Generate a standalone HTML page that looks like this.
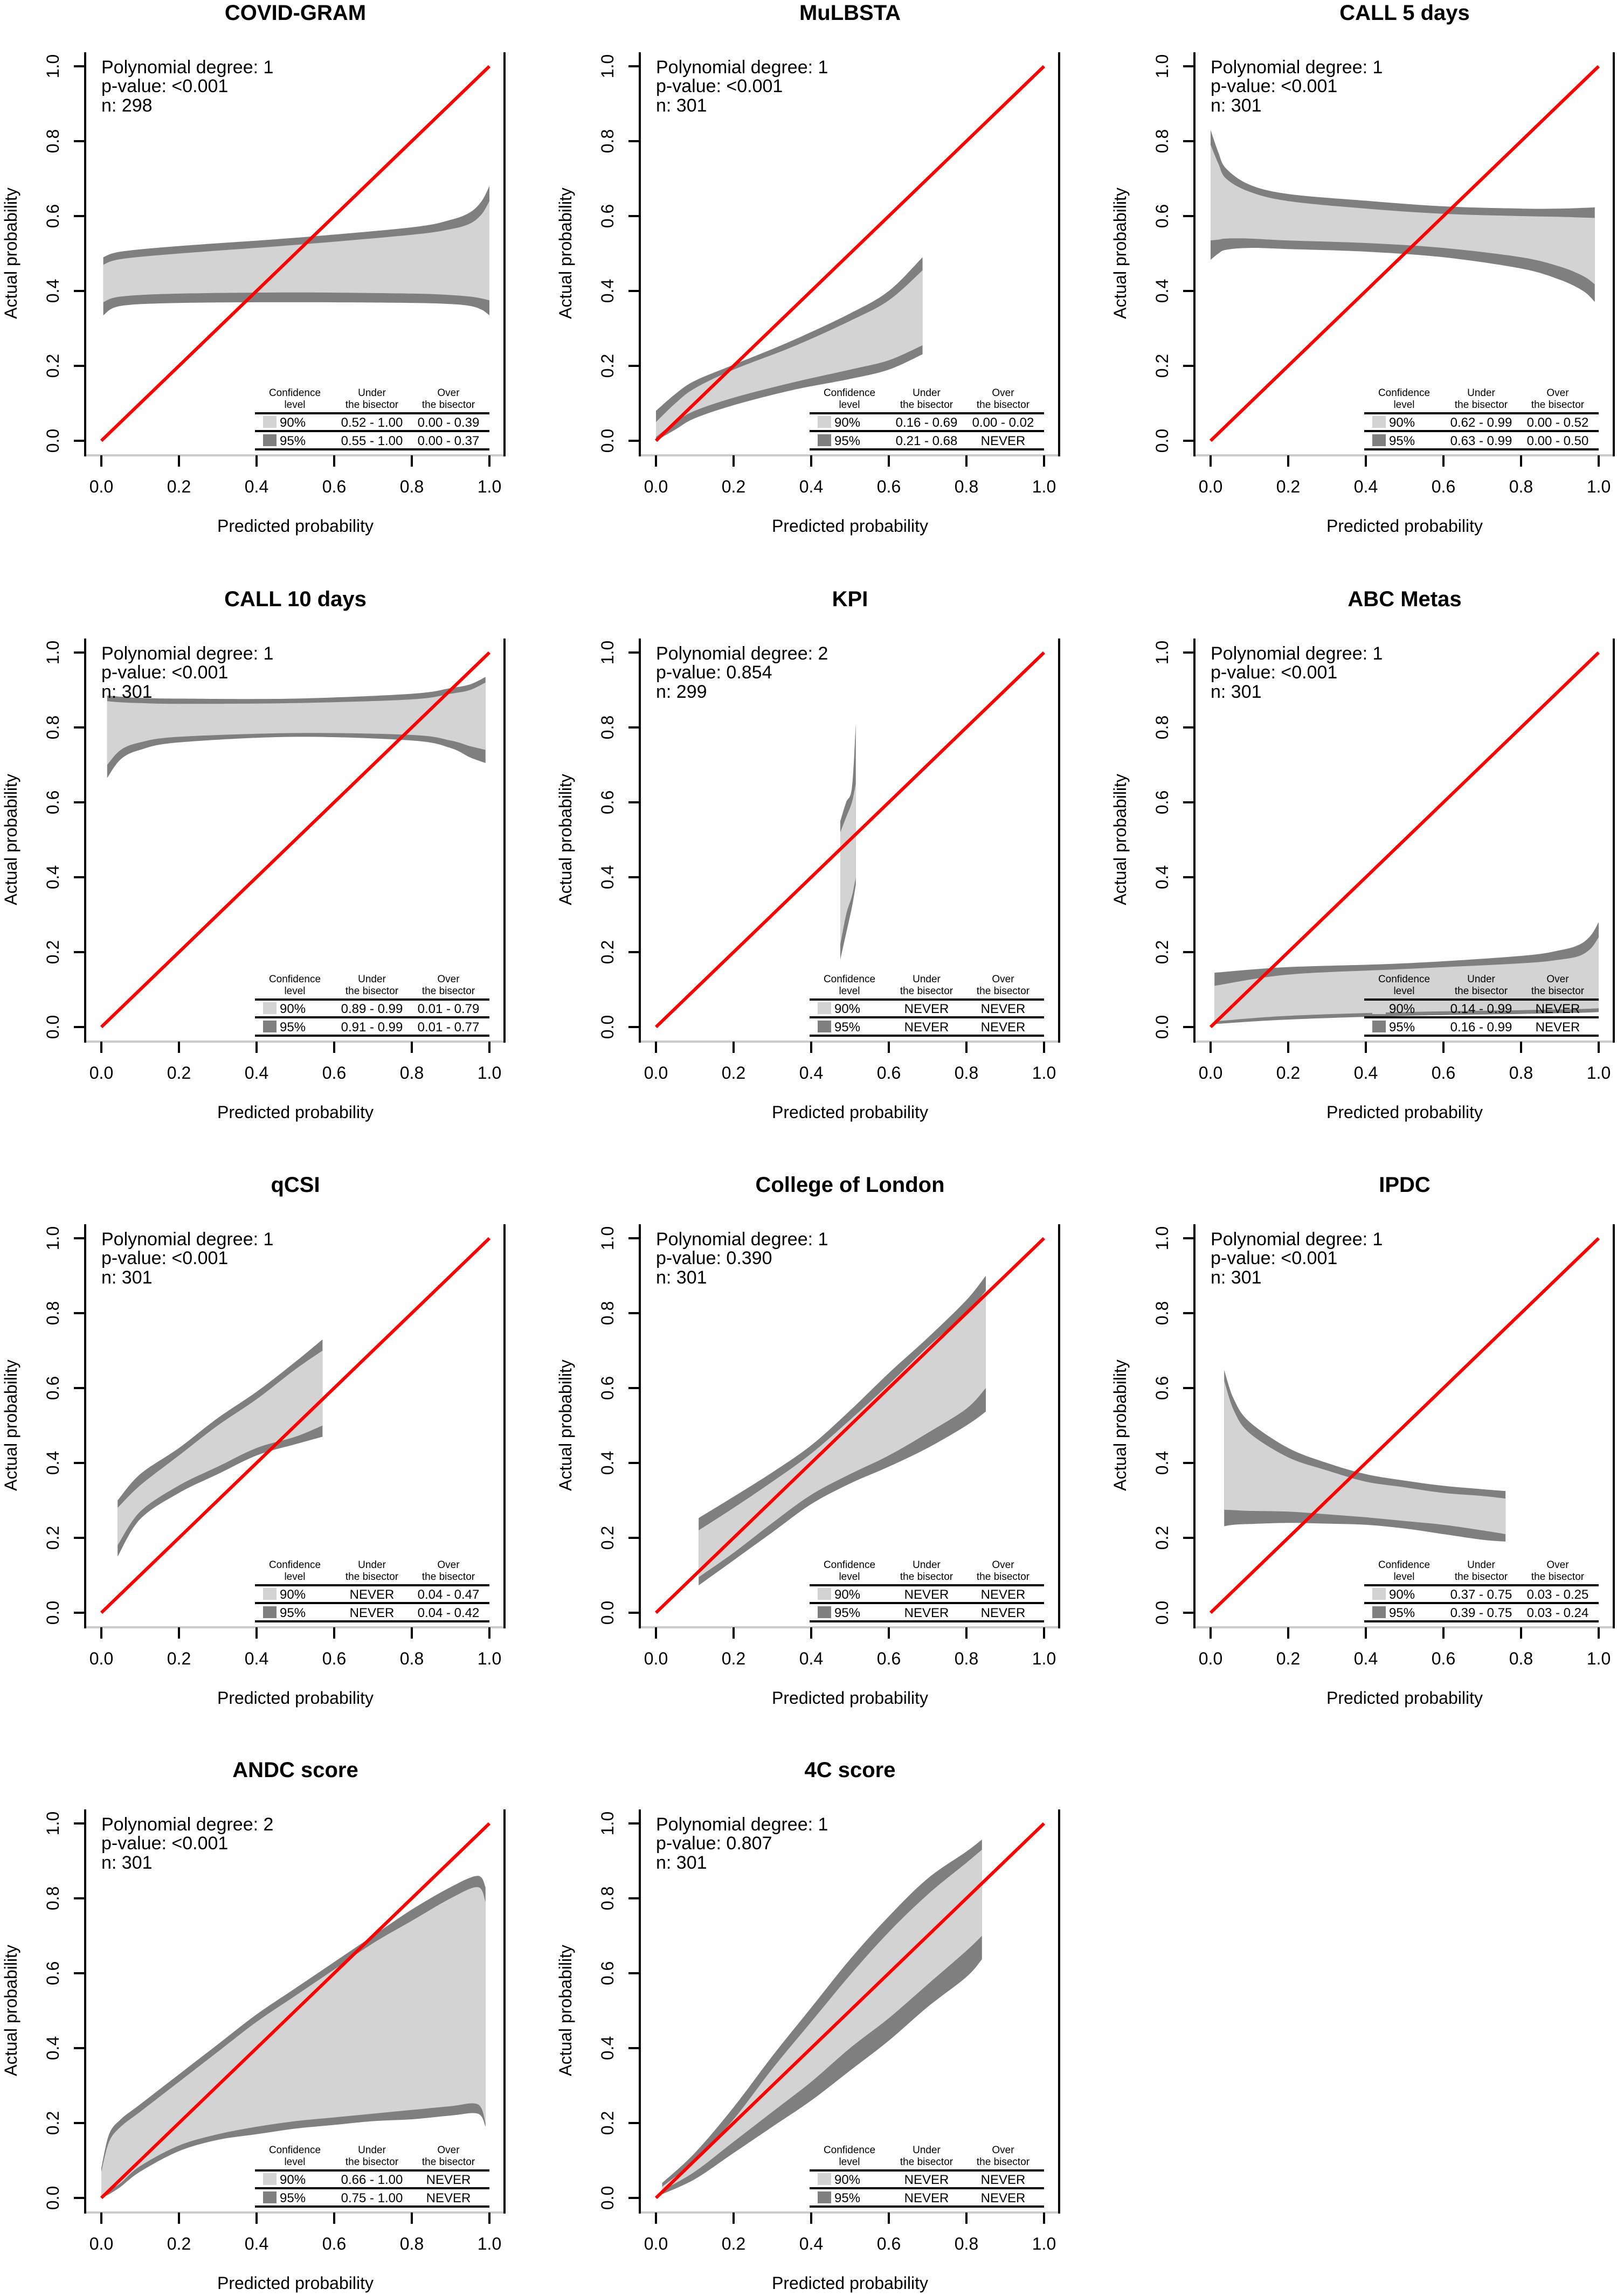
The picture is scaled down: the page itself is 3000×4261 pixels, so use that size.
<!DOCTYPE html>
<html><head><meta charset="utf-8"><style>
html,body{margin:0;padding:0;background:#fff;}
svg{display:block;font-family:"Liberation Sans",Arial,sans-serif;}
</style></head><body>
<svg id="fig" width="3000" height="4261" viewBox="0 0 3000 4261" xmlns="http://www.w3.org/2000/svg"></svg>
<script>
// ---- data ----
const titles = ["COVID-GRAM","MuLBSTA","CALL 5 days","CALL 10 days","KPI","ABC Metas","qCSI","College of London","IPDC","ANDC score","4C score"];
const degrees = [1,1,1,1,2,1,1,1,1,2,1];
const pvalues = ["<0.001","<0.001","<0.001","<0.001","0.854","<0.001","<0.001","0.390","<0.001","<0.001","0.807"];
const nvalues = [298,301,301,301,299,301,301,301,301,301,301];
const under90 = ["0.52 - 1.00","0.16 - 0.69","0.62 - 0.99","0.89 - 0.99","NEVER","0.14 - 0.99","NEVER","NEVER","0.37 - 0.75","0.66 - 1.00","NEVER"];
const over90  = ["0.00 - 0.39","0.00 - 0.02","0.00 - 0.52","0.01 - 0.79","NEVER","NEVER","0.04 - 0.47","NEVER","0.03 - 0.25","NEVER","NEVER"];
const under95 = ["0.55 - 1.00","0.21 - 0.68","0.63 - 0.99","0.91 - 0.99","NEVER","0.16 - 0.99","NEVER","NEVER","0.39 - 0.75","0.75 - 1.00","NEVER"];
const over95  = ["0.00 - 0.37","NEVER","0.00 - 0.50","0.01 - 0.77","NEVER","NEVER","0.04 - 0.42","NEVER","0.03 - 0.24","NEVER","NEVER"];
const xTicks = [0,0.2,0.4,0.6,0.8,1];
const tickLabels = ["0.0","0.2","0.4","0.6","0.8","1.0"];
// band x positions and bounds per panel
const bandX = [
 [0.005,0.05,0.2,0.5,0.8,0.9,0.95,0.98,1.0],
 [0,0.05,0.1,0.2,0.35,0.5,0.6,0.687],
 [0,0.02,0.04,0.1,0.2,0.4,0.6,0.8,0.9,0.96,0.99],
 [0.015,0.05,0.1,0.2,0.5,0.8,0.9,0.95,0.99],
 [0.475,0.49,0.505,0.515],
 [0.01,0.2,0.5,0.8,0.9,0.95,0.98,1.0],
 [0.042,0.1,0.2,0.3,0.4,0.5,0.57],
 [0.11,0.2,0.3,0.4,0.5,0.6,0.7,0.8,0.85],
 [0.035,0.06,0.1,0.2,0.3,0.4,0.5,0.6,0.7,0.76],
 [0,0.02,0.05,0.1,0.2,0.3,0.4,0.5,0.6,0.7,0.8,0.9,0.97,0.99],
 [0.016,0.1,0.2,0.3,0.4,0.5,0.6,0.7,0.8,0.84]
];
const upper95 = [
 [0.49,0.505,0.52,0.542,0.57,0.59,0.61,0.64,0.68],
 [0.08,0.125,0.16,0.203,0.267,0.34,0.40,0.49],
 [0.83,0.77,0.727,0.684,0.659,0.641,0.626,0.62,0.62,0.622,0.623],
 [0.885,0.882,0.879,0.877,0.877,0.89,0.905,0.915,0.935],
 [0.55,0.60,0.64,0.81],
 [0.145,0.16,0.17,0.19,0.205,0.22,0.245,0.28],
 [0.30,0.37,0.44,0.52,0.59,0.67,0.73],
 [0.253,0.31,0.375,0.447,0.54,0.64,0.734,0.835,0.9],
 [0.648,0.57,0.51,0.44,0.40,0.37,0.353,0.339,0.33,0.325],
 [0.08,0.17,0.21,0.25,0.33,0.41,0.49,0.56,0.63,0.70,0.77,0.83,0.86,0.83],
 [0.04,0.12,0.242,0.379,0.508,0.637,0.752,0.853,0.925,0.957]
];
const upper90 = [
 [0.47,0.485,0.50,0.523,0.55,0.565,0.58,0.605,0.64],
 [0.05,0.10,0.14,0.19,0.25,0.32,0.375,0.455],
 [0.79,0.74,0.70,0.665,0.64,0.62,0.606,0.60,0.598,0.596,0.595],
 [0.87,0.867,0.865,0.863,0.865,0.875,0.89,0.9,0.92],
 [0.52,0.56,0.60,0.65],
 [0.11,0.14,0.155,0.17,0.18,0.19,0.21,0.24],
 [0.28,0.34,0.42,0.50,0.57,0.65,0.70],
 [0.22,0.28,0.35,0.425,0.515,0.61,0.71,0.80,0.86],
 [0.62,0.54,0.48,0.415,0.38,0.35,0.335,0.32,0.312,0.305],
 [0.07,0.15,0.19,0.23,0.31,0.39,0.47,0.54,0.61,0.68,0.74,0.80,0.83,0.79],
 [0.03,0.10,0.21,0.345,0.47,0.595,0.71,0.81,0.895,0.93]
];
const lower90 = [
 [0.37,0.385,0.393,0.396,0.393,0.389,0.385,0.38,0.375],
 [0.01,0.05,0.08,0.115,0.155,0.19,0.215,0.255],
 [0.535,0.537,0.54,0.54,0.535,0.528,0.515,0.49,0.465,0.44,0.418],
 [0.70,0.74,0.76,0.775,0.785,0.78,0.765,0.75,0.74],
 [0.22,0.30,0.35,0.40],
 [0.015,0.03,0.04,0.045,0.047,0.048,0.049,0.05],
 [0.18,0.27,0.34,0.39,0.44,0.47,0.50],
 [0.095,0.16,0.24,0.315,0.37,0.42,0.48,0.545,0.6],
 [0.275,0.274,0.272,0.27,0.263,0.255,0.245,0.235,0.22,0.21],
 [0.005,0.02,0.04,0.085,0.14,0.17,0.19,0.205,0.215,0.225,0.235,0.245,0.25,0.2],
 [0.02,0.07,0.15,0.23,0.31,0.40,0.48,0.57,0.66,0.70]
];
const lower95 = [
 [0.335,0.36,0.368,0.370,0.368,0.365,0.36,0.35,0.335],
 [0.0,0.03,0.06,0.095,0.135,0.165,0.19,0.231],
 [0.483,0.50,0.51,0.515,0.512,0.505,0.49,0.46,0.43,0.40,0.371],
 [0.665,0.715,0.74,0.76,0.775,0.765,0.745,0.72,0.705],
 [0.18,0.25,0.32,0.38],
 [0.008,0.02,0.03,0.035,0.037,0.038,0.039,0.04],
 [0.15,0.25,0.32,0.37,0.42,0.45,0.47],
 [0.073,0.14,0.215,0.29,0.345,0.39,0.44,0.50,0.537],
 [0.231,0.235,0.237,0.24,0.238,0.235,0.225,0.21,0.195,0.19],
 [0.0,0.01,0.03,0.07,0.125,0.155,0.17,0.185,0.195,0.205,0.21,0.22,0.225,0.19],
 [0.01,0.05,0.12,0.19,0.26,0.34,0.42,0.51,0.59,0.637]
];
const headerCol1 = ["Confidence","level"];
const headerCol2 = ["Under","the bisector"];
const headerCol3 = ["Over","the bisector"];

// ---- drawing ----
const NS = "http://www.w3.org/2000/svg";
const svg = document.getElementById("fig");
const colOff = [0,1029,2058];
const rowOff = [0,1088,2175,3261];
const X0 = 188, X1 = 908, Y0 = 818, Y1 = 123;
function mk(tag, attrs, parent){
  const e = document.createElementNS(NS, tag);
  for (const k in attrs) e.setAttribute(k, attrs[k]);
  (parent||svg).appendChild(e);
  return e;
}
function txt(s, attrs, parent){ const e = mk("text", attrs, parent); e.textContent = s; return e; }
// Catmull-Rom smooth segment through points (excluding initial move)
function smooth(pts){
  let d = "";
  for (let k = 0; k < pts.length - 1; k++) {
    const p0 = pts[Math.max(0, k - 1)], p1 = pts[k], p2 = pts[k + 1], p3 = pts[Math.min(pts.length - 1, k + 2)];
    const c1x = p1[0] + (p2[0] - p0[0]) / 6, c1y = p1[1] + (p2[1] - p0[1]) / 6;
    const c2x = p2[0] - (p3[0] - p1[0]) / 6, c2y = p2[1] - (p3[1] - p1[1]) / 6;
    d += " C" + c1x.toFixed(1) + "," + c1y.toFixed(1) + " " + c2x.toFixed(1) + "," + c2y.toFixed(1) + " " + p2[0].toFixed(1) + "," + p2[1].toFixed(1);
  }
  return d;
}

titles.forEach((title, i) => {
  const ox = colOff[i % 3], oy = rowOff[Math.floor(i / 3)];
  const sx = v => ox + X0 + v * (X1 - X0);
  const sy = v => oy + Y0 - v * (Y0 - Y1);
  const g = mk("g", {});
  
  

  const t = txt(title, {x: ox + 548, y: oy + 37, "text-anchor": "middle", "font-size": 40, "font-weight": "bold"}, g);
  
  

  // bands
  const xs = bandX[i];
  const path = (up, lo) => {
    const U = xs.map((x, k) => [sx(x), sy(up[k])]);
    const L = xs.map((x, k) => [sx(x), sy(lo[k])]).reverse();
    return "M" + U[0][0].toFixed(1) + "," + U[0][1].toFixed(1) + smooth(U) +
      " L" + L[0][0].toFixed(1) + "," + L[0][1].toFixed(1) + smooth(L) + " Z";
  };
  const b95 = mk("path", {d: path(upper95[i], lower95[i]), fill: "#7f7f7f"}, g);
  
  
  const b90 = mk("path", {d: path(upper90[i], lower90[i]), fill: "#d3d3d3"}, g);
  
  

  // diagonal
  const dl = mk("line", {x1: sx(0), y1: sy(0), x2: sx(1), y2: sy(1), stroke: "#ff0000", "stroke-width": 6}, g);
  
  

  // axes frame
  const bl = mk("line", {x1: ox + 158, y1: oy + 845, x2: ox + 936, y2: oy + 845, stroke: "#cccccc", "stroke-width": 4}, g);
  
  
  const la = mk("line", {x1: ox + 158, y1: oy + 97, x2: ox + 158, y2: oy + 847, stroke: "#000", "stroke-width": 4}, g);
  
  
  const ra = mk("line", {x1: ox + 936, y1: oy + 97, x2: ox + 936, y2: oy + 847, stroke: "#000", "stroke-width": 4}, g);
  
  

  xTicks.forEach((v, k) => {
    const tk = mk("line", {x1: sx(v), y1: oy + 845, x2: sx(v), y2: oy + 866, stroke: "#000", "stroke-width": 4}, g);
    
    
    const tl = txt(tickLabels[k], {x: sx(v), y: oy + 914, "text-anchor": "middle", "font-size": 32}, g);
    
    
    const ty = mk("line", {x1: ox + 137, y1: sy(v), x2: ox + 158, y2: sy(v), stroke: "#000", "stroke-width": 4}, g);
    
    
    const yl = txt(tickLabels[k], {x: 0, y: 0, "text-anchor": "middle", "font-size": 32, transform: "translate(" + (ox + 109) + "," + sy(v) + ") rotate(-90)"}, g);
    
    
  });

  const xt = txt("Predicted probability", {x: ox + 548, y: oy + 987, "text-anchor": "middle", "font-size": 32}, g);
  
  
  const yt = txt("Actual probability", {x: 0, y: 0, "text-anchor": "middle", "font-size": 32, transform: "translate(" + (ox + 31) + "," + (oy + 470) + ") rotate(-90)"}, g);
  
  

  // annotation
  const a1 = txt("Polynomial degree: " + degrees[i], {x: ox + 188, y: oy + 136, "font-size": 34}, g);
  
  
  const a2 = txt("p-value: " + pvalues[i], {x: ox + 188, y: oy + 171, "font-size": 34}, g);
  
  
  const a3 = txt("n: " + nvalues[i], {x: ox + 188, y: oy + 207, "font-size": 34}, g);
  
  

  // legend table
  const lg = mk("g", {}, g);
  
  
  const c1 = ox + 547, c2 = ox + 690, c3 = ox + 832;
  [[headerCol1, c1], [headerCol2, c2], [headerCol3, c3]].forEach(([h, cx]) => {
    txt(h[0], {x: cx, y: oy + 735, "text-anchor": "middle", "font-size": 19}, lg);
    txt(h[1], {x: cx, y: oy + 757, "text-anchor": "middle", "font-size": 19}, lg);
  });
  [767, 800, 834].forEach(yy => mk("line", {x1: ox + 473, y1: oy + yy, x2: ox + 908, y2: oy + yy, stroke: "#000", "stroke-width": 4}, lg));
  const rows = [["#d3d3d3", "90%", under90[i], over90[i], 792], ["#7f7f7f", "95%", under95[i], over95[i], 826]];
  rows.forEach(r => {
    const sw = mk("rect", {x: ox + 488, y: oy + r[4] - 20, width: 25, height: 22, fill: r[0]}, lg);
    
    
    txt(r[1], {x: ox + 519, y: oy + r[4], "font-size": 24}, lg);
    txt(r[2], {x: c2, y: oy + r[4], "text-anchor": "middle", "font-size": 24}, lg);
    txt(r[3], {x: c3, y: oy + r[4], "text-anchor": "middle", "font-size": 24}, lg);
  });
});
</script>
</body></html>
